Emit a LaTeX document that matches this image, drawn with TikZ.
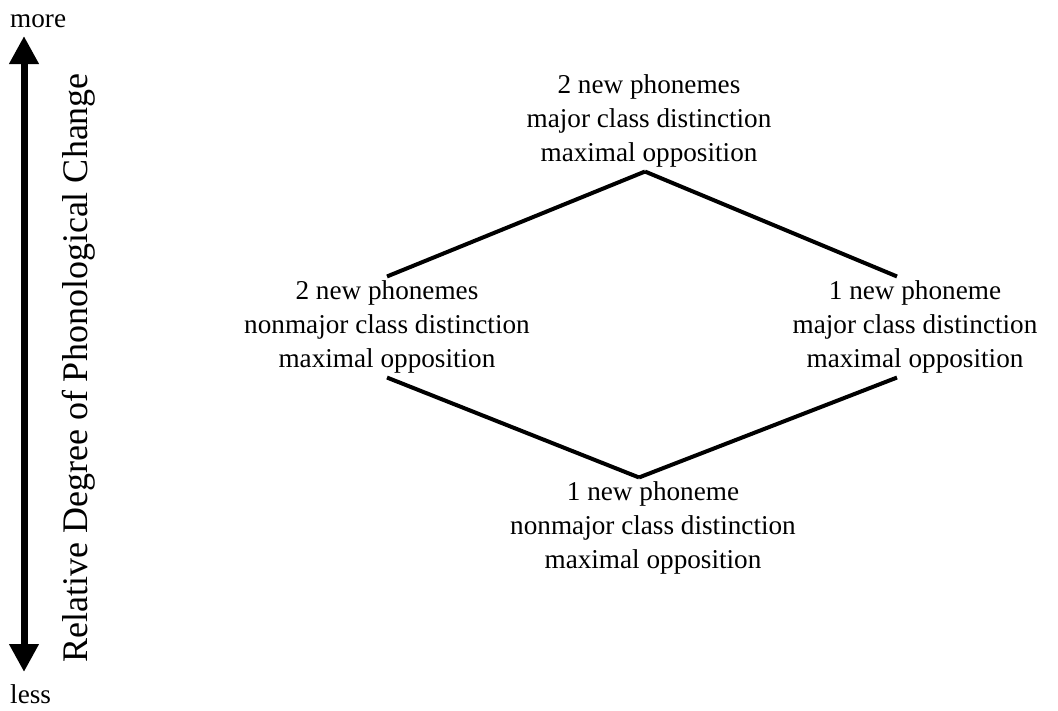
\documentclass[tikz,border=0pt]{standalone}
\usepackage{fontspec}
\setmainfont{Liberation Serif}
\usetikzlibrary{arrows.meta}

\begin{document}
\begin{tikzpicture}[
  x=1pt, y=-1pt,
  level/.style={align=center, inner sep=4pt, font=\fontsize{27.2}{34}\selectfont},
  endword/.style={anchor=base west, inner sep=0pt, font=\fontsize{27.2}{34}\selectfont},
  link/.style={line width=4pt},
  bigtip/.style={line width=7pt, {Triangle[width=28pt,length=28pt]}-{Triangle[width=28pt,length=28pt]}}
]
\useasboundingbox (0,0) rectangle (1058,710);

% scale on the left
\node (more) [endword] at (10,27) {more};
\node (less) [endword] at (10,703) {less};
\coordinate (hi) at (24,36);
\coordinate (lo) at (24,672);
\draw[bigtip] (lo) -- (hi);
\node (axis) [rotate=90, anchor=base, inner sep=0pt, font=\fontsize{36}{40}\selectfont]
  at (87,368) {Relative Degree of Phonological Change};

% the four levels
\node (top) [level] at (649,121) {2 new phonemes\\major class distinction\\maximal opposition};
\node (left) [level] at (387,327) {2 new phonemes\\nonmajor class distinction\\maximal opposition};
\node (right) [level] at (915,327) {1 new phoneme\\major class distinction\\maximal opposition};
\node (bot) [level] at (653,528) {1 new phoneme\\nonmajor class distinction\\maximal opposition};

\draw[link] ([xshift=-4pt]top.south) -- (left.north);
\draw[link] ([xshift=-4pt]top.south) -- ([xshift=-18pt]right.north);
\draw[link] (left.south) -- ([xshift=-14pt]bot.north);
\draw[link] ([xshift=-14pt]bot.north) -- ([xshift=-18pt]right.south);
\end{tikzpicture}
\end{document}
